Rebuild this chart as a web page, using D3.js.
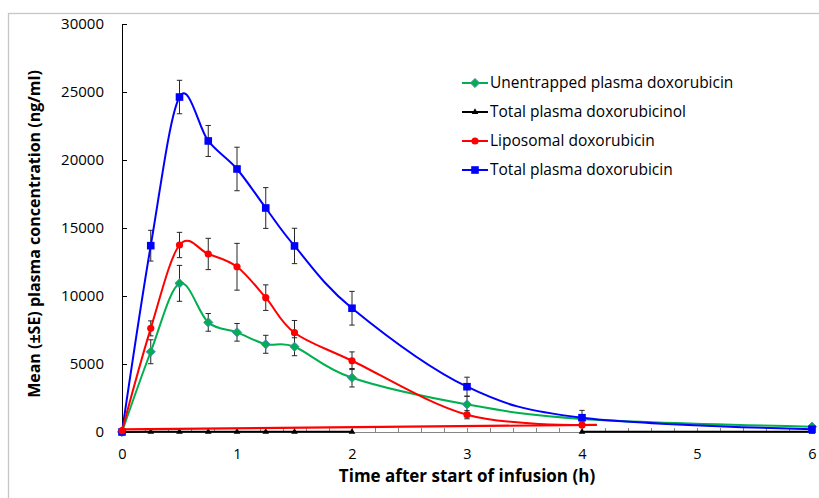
<!DOCTYPE html>
<html><head><meta charset="utf-8">
<script src="https://cdn.jsdelivr.net/npm/d3@7"></script>
<style>
html,body{margin:0;padding:0;background:#fff;}
svg{display:block;}
text{font-family:"Open Sans","Noto Sans",sans-serif;fill:#000;}
</style></head>
<body>
<svg id="chart" width="819" height="498"></svg>
<script>
// ---- data ----
const times = [0, 0.25, 0.5, 0.75, 1, 1.25, 1.5, 2, 3, 4, 6];
const unentrapped   = [0, 5900, 10930, 8060, 7330, 6450, 6270, 3990, 2030, 960, 390];
const unentrappedSE = [0, 880, 1320, 650, 650, 660, 660, 680, 600, 0, 0];
const doxorubicinol = [0, 10, 10, 10, 10, 10, 10, 10, null, 10, 10];
const liposomal     = [100, 7620, 13750, 13090, 12150, 9880, 7300, 5240, 1270, 515, null];
const liposomalSE   = [0, 550, 930, 1150, 1720, 940, 900, 650, 300, 150, null];
const totalDox      = [0, 13700, 24630, 21400, 19340, 16470, 13680, 9100, 3330, 1050, 200];
const totalDoxSE    = [0, 1130, 1230, 1140, 1600, 1500, 1300, 1240, 700, 540, 0];
const liposomalBaseTimes  = [0, 4.13];
const liposomalBaseValues = [200, 520];
const yTicks = [0, 5000, 10000, 15000, 20000, 25000, 30000];
const xTicks = [0, 1, 2, 3, 4, 5, 6];
const legendLabels = ["Unentrapped plasma doxorubicin", "Total plasma doxorubicinol", "Liposomal doxorubicin", "Total plasma doxorubicin"];

// ---- layout ----
const svg = d3.select("#chart");
const L = 122, R = 812, T = 24, B = 432;
const x = d3.scaleLinear().domain([0, 6]).range([L, R]);
const y = d3.scaleLinear().domain([0, 30000]).range([B, T]);

// outer frame
svg.append("rect").attr("x", 8.5).attr("y", 13.5).attr("width", 900).attr("height", 600)
  .attr("fill", "none").attr("stroke", "#c6c6c6").attr("stroke-width", 1.3);

// x axis: minor ticks every 0.2 (inside), labels at integers
const minor = d3.range(0, 31).map(i => i * 0.2);
const gx = svg.append("g").attr("transform", `translate(0,${B})`);
gx.call(d3.axisBottom(x).tickValues(minor).tickSize(-4).tickFormat(""))
  .call(g => g.select(".domain").attr("stroke", "#868686"))
  .call(g => g.selectAll(".tick line").attr("stroke", "#868686"));
const gxl = svg.append("g").attr("transform", `translate(0,${B})`);
gxl.call(d3.axisBottom(x).tickValues(xTicks).tickSize(0).tickPadding(17).tickFormat(d3.format("d")))
  .call(g => g.select(".domain").remove())
  .call(g => g.selectAll("text").attr("font-size", 14.5).attr("font-family", "'Open Sans'"));

// y axis
const gy = svg.append("g").attr("transform", `translate(${L},0)`);
gy.call(d3.axisLeft(y).tickValues(yTicks).tickSize(-5).tickPadding(18).tickFormat(d3.format("d")))
  .call(g => g.select(".domain").attr("stroke", "#000"))
  .call(g => g.selectAll(".tick line").attr("stroke", "#000"))
  .call(g => g.selectAll("text").attr("font-size", 15).attr("font-family", "'Open Sans'"));

// axis titles
svg.append("text").attr("x", x(3)).attr("y", 482).attr("text-anchor", "middle")
  .attr("font-size", 17).attr("font-weight", "bold").text("Time after start of infusion (h)");
svg.append("text").attr("transform", `translate(40,${234}) rotate(-90)`).attr("text-anchor", "middle")
  .attr("font-size", 16).attr("font-weight", "bold").text("Mean (\u00B1SE) plasma concentration (ng/ml)");

// helpers
const curve = d3.curveCardinal.tension(0);
function pts(xs, vs) { return xs.map((t, i) => ({ t, v: vs[i] })); }
const line = d3.line().defined(d => d.v != null).x(d => x(d.t)).y(d => y(d.v)).curve(curve);

function errorBars(xs, vs, se) {
  const g = svg.append("g").attr("stroke", "#262626").attr("stroke-width", 1);
  xs.forEach((t, i) => {
    if (vs[i] == null || !se[i]) return;
    const cx = x(t), y1 = y(vs[i] + se[i]), y2 = y(vs[i] - se[i]);
    g.append("line").attr("x1", cx).attr("x2", cx).attr("y1", y1).attr("y2", y2);
    g.append("line").attr("x1", cx - 2.7).attr("x2", cx + 2.7).attr("y1", y1).attr("y2", y1);
    g.append("line").attr("x1", cx - 2.7).attr("x2", cx + 2.7).attr("y1", y2).attr("y2", y2);
  });
}

const symDiamond = (cx, cy, s) => `M${cx},${cy - s}L${cx + s},${cy}L${cx},${cy + s}L${cx - s},${cy}Z`;
const symTri = (cx, cy, s) => `M${cx},${cy - s}L${cx + s},${cy + s * 0.75}L${cx - s},${cy + s * 0.75}Z`;

function drawMarkers(xs, vs, kind) {
  const g = svg.append("g");
  xs.forEach((t, i) => {
    if (vs[i] == null) return;
    drawMarker(g, kind, x(t), y(vs[i]));
  });
}
function drawMarker(g, kind, cx, cy) {
  if (kind === "diamond") g.append("path").attr("d", symDiamond(cx, cy, 4.6)).attr("fill", "#00B050").attr("stroke", "#4F81BD").attr("stroke-width", 0.9);
  if (kind === "tri") g.append("path").attr("d", symTri(cx, cy - 0.5, 3.3)).attr("fill", "#000");
  if (kind === "circle") g.append("circle").attr("cx", cx).attr("cy", cy).attr("r", 3.6).attr("fill", "#FF0000");
  if (kind === "square") g.append("rect").attr("x", cx - 3.8).attr("y", cy - 3.8).attr("width", 7.6).attr("height", 7.6).attr("fill", "#0000FF");
}

// error bars
errorBars(times, unentrapped, unentrappedSE);
errorBars(times, liposomal, liposomalSE);
errorBars(times, totalDox, totalDoxSE);

// series: green
svg.append("path").datum(pts(times, unentrapped)).attr("d", line).attr("fill", "none").attr("stroke", "#00B050").attr("stroke-width", 2);
drawMarkers(times, unentrapped, "diamond");
// black
svg.append("path").datum(pts(times, doxorubicinol)).attr("d", d3.line().defined(d => d.v != null).x(d => x(d.t)).y(d => y(d.v)))
  .attr("fill", "none").attr("stroke", "#000").attr("stroke-width", 2);
drawMarkers(times, doxorubicinol, "tri");
// blue
svg.append("path").datum(pts(times, totalDox)).attr("d", line).attr("fill", "none").attr("stroke", "#0000FF").attr("stroke-width", 2);
drawMarkers(times, totalDox, "square");
// red baseline + red
svg.append("path").datum(pts(liposomalBaseTimes, liposomalBaseValues)).attr("d", d3.line().x(d => x(d.t)).y(d => y(d.v)))
  .attr("fill", "none").attr("stroke", "#FF0000").attr("stroke-width", 2.2);
svg.append("path").datum(pts(times, liposomal)).attr("d", line).attr("fill", "none").attr("stroke", "#FF0000").attr("stroke-width", 2);
drawMarkers(times, liposomal, "circle");

// legend
const legendColors = ["#00B050", "#000", "#FF0000", "#0000FF"];
const legendKinds = ["diamond", "tri", "circle", "square"];
const lg = svg.append("g");
legendLabels.forEach((lab, i) => {
  const cy = 83 + i * 29;
  lg.append("line").attr("x1", 462).attr("x2", 488).attr("y1", cy).attr("y2", cy).attr("stroke", legendColors[i]).attr("stroke-width", 2);
  drawMarker(lg, legendKinds[i], 475, cy);
  lg.append("text").attr("x", 490).attr("y", cy).attr("dy", "0.35em").attr("font-size", 15.5).text(lab);
});
</script>
</body></html>
